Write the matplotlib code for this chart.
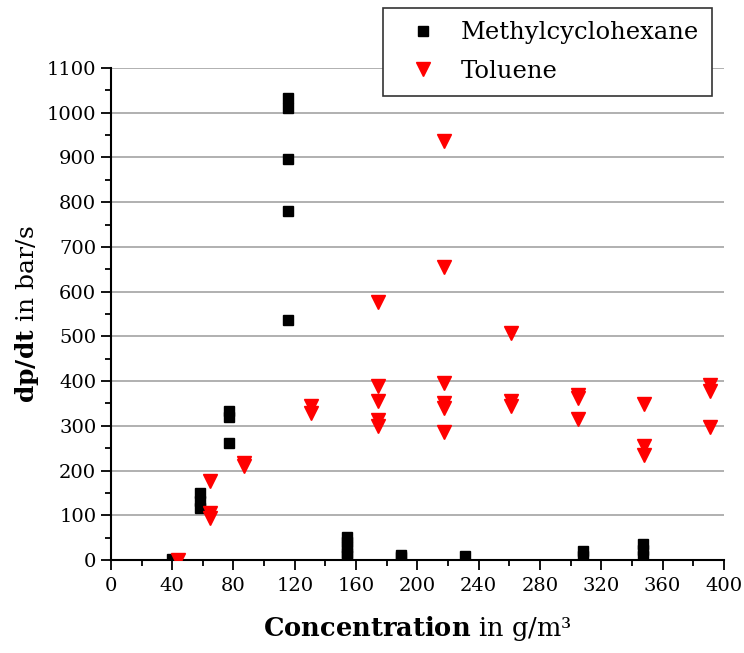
import matplotlib.pyplot as plt
from matplotlib.ticker import MultipleLocator

plt.rcParams['font.family'] = 'DejaVu Serif'
plt.rcParams['mathtext.fontset'] = 'custom'
plt.rcParams['mathtext.rm'] = 'DejaVu Serif'
plt.rcParams['mathtext.bf'] = 'DejaVu Serif:bold'

# Methylcyclohexane
mch_x = [40, 58, 58, 58, 77, 77, 77, 115.5, 115.5, 115.5, 115.5, 115.5,
         154, 154, 154, 154, 154, 189, 189, 231, 308, 308, 347, 347, 347]
mch_y = [3, 150, 133, 116, 333, 320, 262, 1033, 1010, 896, 780, 537,
         52, 40, 28, 16, 8, 12, 6, 8, 20, 8, 35, 22, 8]

# Toluene
tol_x = [44, 65, 65, 65, 87, 87, 130.5, 130.5,
         174, 174, 174, 174, 174,
         217.5, 217.5, 217.5, 217.5, 217.5, 217.5,
         261, 261, 261, 305, 305, 305, 348, 348, 348, 391, 391, 391]
tol_y = [0, 176, 106, 93, 217, 210, 344, 328,
         577, 390, 355, 313, 299,
         936, 656, 396, 350, 341, 286,
         508, 355, 345, 370, 362, 316, 348, 256, 235, 391, 379, 297]

fig = plt.figure(figsize=(7.44, 6.53), dpi=100)
ax = fig.add_axes([0.149, 0.1424, 0.824, 0.7534])

ax.plot(mch_x, mch_y, 's', color='black', ms=7.2, mec='black', label='Methylcyclohexane', zorder=3)
ax.plot(tol_x, tol_y, 'v', color='red', ms=9.5, mec='red', label='Toluene', zorder=3)

ax.set_xlim(0, 400)
ax.set_ylim(0, 1100)
ax.xaxis.set_major_locator(MultipleLocator(40))
ax.xaxis.set_minor_locator(MultipleLocator(20))
ax.yaxis.set_major_locator(MultipleLocator(100))
ax.yaxis.set_minor_locator(MultipleLocator(50))
ax.tick_params(which='major', direction='out', length=7, width=1.3, labelsize=14)
ax.tick_params(axis='x', which='major', pad=5)
ax.tick_params(which='minor', direction='out', length=4, width=1.3)

ax.grid(axis='y', color='#aaaaaa', lw=1.3)
ax.set_axisbelow(True)
for s in ['top', 'right']:
    ax.spines[s].set_visible(False)
for s in ['left', 'bottom']:
    ax.spines[s].set_linewidth(1.5)

ax.set_xlabel(r'$\mathbf{Concentration}$ in g/m³', fontsize=18.5, labelpad=14)
ax.set_ylabel(r'$\mathbf{dp/dt}$ in bar/s', fontsize=18, labelpad=4)

leg = ax.legend(loc='upper left', bbox_to_anchor=(0.4437, 1.1227), fontsize=17.5,
                frameon=True, fancybox=False, edgecolor='#333333', framealpha=1,
                borderpad=0.55, handletextpad=0.45, labelspacing=0.65, handlelength=2.2,
                borderaxespad=0)
leg.get_frame().set_linewidth(1.2)

fig.savefig('out.png')
